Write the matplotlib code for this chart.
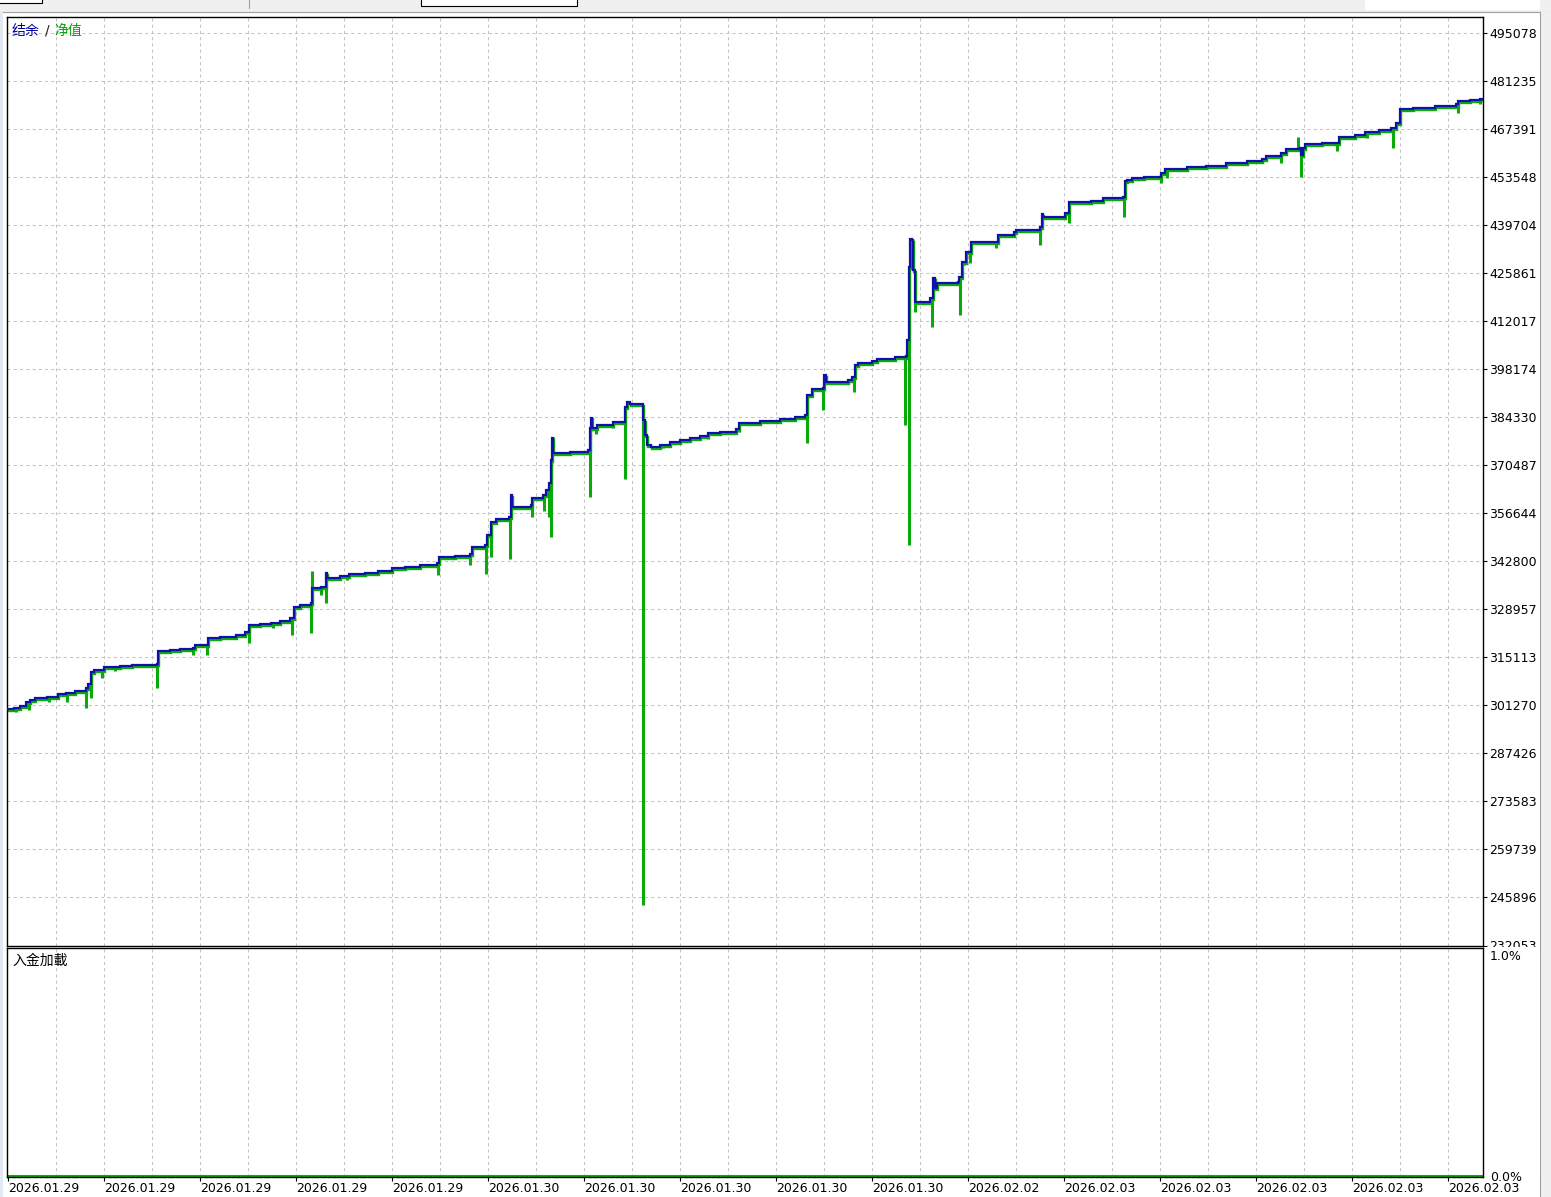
import numpy as np
import matplotlib
matplotlib.use("Agg")
import matplotlib.pyplot as plt
from matplotlib.patches import Rectangle
from matplotlib.lines import Line2D
from matplotlib.transforms import offset_copy, ScaledTranslation

plt.rcParams['font.family'] = ['DejaVu Sans']

# balance curve (bar index, account value)
bal_x = [-2, 6, 12, 18, 22, 27, 39, 50, 58, 67, 78, 80, 83, 86, 96, 112, 124, 149, 150, 162,
         172, 185, 187, 200, 212, 228, 237, 241, 252, 263, 272, 282, 286, 292, 303, 304, 313, 318, 319, 332,
         341, 357, 370, 384, 397, 412, 429, 431, 447, 462, 464, 477, 479, 483, 488, 501, 503, 504, 523, 524,
         535, 538, 541, 543, 544, 545, 562, 580, 582, 583, 584, 589, 605, 617, 619, 622, 635, 637, 639, 643,
         652, 662, 672, 682, 692, 700, 712, 728, 731, 752, 772, 787, 797, 799, 804, 815, 816, 818, 840, 844,
         847, 850, 864, 869, 887, 898, 899, 901, 902, 904, 905, 907, 922, 925, 927, 929, 950, 951, 954, 958,
         963, 990, 1006, 1008, 1032, 1034, 1035, 1057, 1061, 1083, 1095, 1115, 1117, 1119, 1124, 1136, 1153, 1157, 1179, 1198,
         1218, 1239, 1254, 1258, 1273, 1278, 1292, 1293, 1295, 1297, 1314, 1331, 1347, 1357, 1371, 1383, 1388, 1392, 1405, 1427,
         1448, 1450, 1462, 1472, 1475]
bal_v = [300120, 300410, 300990, 302140, 302720, 303290, 303580, 304450, 304730, 305310, 306180, 307330, 310790, 311370, 312230, 312520, 312810, 313100, 316850, 317140,
         317420, 317710, 318580, 320600, 320890, 321460, 322330, 324350, 324630, 324920, 325500, 326360, 329540, 330110, 330690, 335020, 335310, 339350, 337900, 338480,
         339060, 339340, 339920, 340780, 341070, 341650, 342230, 343960, 344240, 344820, 346840, 347420, 350300, 354050, 354920, 355490, 361840, 358380, 358950, 360970,
         361840, 363280, 365300, 371930, 378380, 373950, 374240, 374810, 381160, 384140, 381160, 382030, 382890, 387220, 388660, 388080, 383470, 379140, 376260, 375680,
         376260, 377120, 377700, 378280, 378850, 379720, 380010, 380870, 382600, 383180, 383760, 384330, 384910, 390680, 392410, 392700, 396450, 394430, 395000, 395870,
         399330, 399910, 400480, 401060, 401640, 401930, 406540, 427590, 435670, 435380, 426730, 417500, 418650, 424420, 421540, 422980, 423270, 424710, 429030, 431920,
         434800, 436820, 437690, 438260, 439130, 442880, 442010, 443170, 446340, 446630, 447490, 447780, 452400, 452680, 453260, 453550, 454700, 455860, 456430, 456720,
         457590, 458160, 458740, 459600, 460470, 461620, 461910, 459890, 461910, 463070, 463350, 465080, 465660, 466530, 467100, 467680, 469120, 473160, 473450, 474030,
         474600, 475470, 475750, 476040, 476040]

# equity drawdown spikes (bar index, lowest equity)
dip_x = [8, 21, 41, 59, 78, 83, 94, 107, 149, 185, 199, 241, 265, 284, 303, 313, 318, 339, 374, 430,
         462, 478, 483, 502, 524, 536, 541, 543, 582, 588, 605, 617, 635, 655, 672, 700, 731, 799, 815, 846,
         897, 901, 907, 924, 952, 956, 962, 988, 1006, 1032, 1061, 1094, 1116, 1153, 1159, 1214, 1239, 1254, 1273, 1293,
         1329, 1359, 1385, 1450, 1472]
dip_v = [299250, 299830, 302140, 302140, 300410, 303420, 309060, 311080, 306170, 315690, 315690, 319150, 323480, 321460, 322040, 332990, 330690, 337320, 339340, 338760,
         341650, 339050, 343960, 343380, 355490, 357220, 355490, 349720, 361260, 379430, 381160, 366450, 243590, 375390, 376550, 377990, 380010, 376830, 386350, 391540,
         382020, 347420, 414620, 410290, 413750, 428170, 428740, 433070, 436240, 433940, 440280, 446050, 442010, 451820, 453260, 456140, 457010, 457580, 457580, 453550,
         461050, 464800, 461910, 472000, 474600]

# equity spikes above balance
peak_x = [304, 1290]
peak_v = [339920, 465080]

y_ticks = [232053, 245896, 259739, 273583, 287426, 301270, 315113, 328957, 342800, 356644,
           370487, 384330, 398174, 412017, 425861, 439704, 453548, 467391, 481235, 495078]
date_pos = list(range(0, 1441, 96))
date_labels = ['2026.01.29'] * 5 + ['2026.01.30'] * 5 + ['2026.02.02'] + ['2026.02.03'] * 5

# deposit load (%)
load_x = [-2, 1475]
load_pct = [0.0, 0.0]

BLUE = '#1010aa'
GREEN = '#0aaa0a'
GRID = '#c4c4c4'

W, H = 1551, 1197
fig = plt.figure(figsize=(W / 100, H / 100), dpi=100)


def frect(x0, y0, x1, y1):
    return [x0 / W, 1 - y1 / H, (x1 - x0) / W, (y1 - y0) / H]


def fpt(x, y):
    return x / W, 1 - y / H


# window chrome
fig.add_artist(Rectangle(fpt(0, 12), 1, 12 / H, transform=fig.transFigure, facecolor='#f0f0f0', edgecolor='none', zorder=-1))
fig.add_artist(Rectangle(fpt(1365, 10), 175 / W, 10 / H, transform=fig.transFigure, facecolor='white', edgecolor='none', zorder=-1))
fig.add_artist(Line2D([0, 1], [1 - 12 / H] * 2, transform=fig.transFigure, color='#a0a0a0', lw=0.8, zorder=-1))
fig.add_artist(Rectangle(fpt(-2, 3), 44 / W, 5 / H, transform=fig.transFigure, facecolor='white', edgecolor='black', lw=0.8, zorder=-1))
fig.add_artist(Rectangle(fpt(421, 6), 156 / W, 8 / H, transform=fig.transFigure, facecolor='white', edgecolor='black', lw=0.8, zorder=-1))
fig.add_artist(Line2D([249 / W] * 2, [1, 1 - 8 / H], transform=fig.transFigure, color='#a0a0a0', lw=0.8, zorder=-1))
fig.add_artist(Rectangle(fpt(1540, H), 11 / W, (H - 12) / H, transform=fig.transFigure, facecolor='#f0f0f0', edgecolor='none', zorder=-1))
fig.add_artist(Line2D([1540 / W] * 2, [0, 1 - 12 / H], transform=fig.transFigure, color='#a0a0a0', lw=0.8, zorder=-1))
fig.add_artist(Rectangle(fpt(0, H), 3 / W, (H - 12) / H, transform=fig.transFigure, facecolor='#e4e8f0', edgecolor='none', zorder=-1))

# ---- main panel: balance / equity
ax = fig.add_axes(frect(6.5, 16.5, 1483, 945.5), zorder=0)
ax.set_xlim(-2, 1475)
ax.set_ylim(232053, 499834)

bx = np.array(bal_x)
bv = np.array(bal_v)


def bal_at(x):
    i = np.searchsorted(bx, x, side='right') - 1
    return bv[max(i, 0)]


green_tr = offset_copy(ax.transData, fig=fig, x=0.5, y=-1.6, units='dots')
ax.plot(bal_x, bal_v, drawstyle='steps-post', color=GREEN, lw=1.7, transform=green_tr, zorder=2,
        solid_joinstyle='miter', solid_capstyle='butt')
ax.vlines(dip_x, [bal_at(x) for x in dip_x], dip_v, color=GREEN, lw=2.2, zorder=2, capstyle='butt')
ax.vlines(peak_x, [bal_at(x) for x in peak_x], peak_v, color=GREEN, lw=2.2, zorder=2, capstyle='butt')
ax.plot(bal_x, bal_v, drawstyle='steps-post', color=BLUE, lw=1.6, zorder=3,
        solid_joinstyle='miter', solid_capstyle='butt')

ax.yaxis.tick_right()
ax.set_yticks(y_ticks)
ax.set_yticklabels([str(v) for v in y_ticks])
ax.tick_params(axis='y', direction='out', length=3, width=0.8, pad=1.5, labelsize=9, colors='black')
ax.set_xticks(list(range(48, 1441, 48)))
ax.tick_params(axis='x', length=0, labelbottom=False)
ax.grid(True, color=GRID, linestyle=(0, (3, 3)), linewidth=0.75)
for s in ax.spines.values():
    s.set_linewidth(1.0)

fig.text(*fpt(12, 31), '结余', color='#00009c', fontsize=10, va='center', ha='left',
         family=['Noto Sans CJK SC', 'DejaVu Sans'])
fig.text(*fpt(45, 31), '/', color='#202020', fontsize=10, va='center', ha='left')
fig.text(*fpt(54, 31), '净值', color='#00a000', fontsize=10, va='center', ha='left',
         family=['Noto Sans CJK SC', 'DejaVu Sans'])

# cover lower part of the last price label, like the terminal does
fig.add_artist(Rectangle(fpt(1484, 1177), 56 / W, 230 / H, transform=fig.transFigure,
                         facecolor='white', edgecolor='none', zorder=0.5))

# ---- lower panel: deposit load
ax2 = fig.add_axes(frect(6.5, 947.5, 1483, 1177), zorder=1)
ax2.set_xlim(-2, 1475)
ax2.set_ylim(-0.005, 1.0)
ax2.plot(load_x, load_pct, color=GREEN, lw=1.5)

ax2.set_xticks(date_pos)
ax2.set_xticklabels(date_labels, ha='left')
ax2.set_xticks(list(range(48, 1441, 96)), minor=True)
ax2.tick_params(axis='x', which='major', direction='out', length=3, width=0.8, pad=0.5, labelsize=9)
ax2.tick_params(axis='x', which='minor', length=0)
ax2.grid(True, axis='x', which='both', color=GRID, linestyle=(0, (3, 3)), linewidth=0.75)
ax2.xaxis.get_major_ticks()[0].gridline.set_visible(False)

ax2.yaxis.tick_right()
ax2.set_yticks([0.0, 1.0])
ax2.set_yticklabels(['0.0%', '1.0%'])
ax2.tick_params(axis='y', length=0, pad=5, labelsize=9)
lbls = ax2.get_yticklabels()
lbls[1].set_va('top')
lbls[1].set_transform(lbls[1].get_transform() + ScaledTranslation(0, -3 / 100, fig.dpi_scale_trans))
for s in ax2.spines.values():
    s.set_linewidth(1.0)

fig.text(*fpt(12, 961), '入金加載', color='black', fontsize=10, va='center', ha='left',
         family=['Noto Sans CJK SC', 'DejaVu Sans'])

fig.savefig('out.png', dpi=100, facecolor='white')
